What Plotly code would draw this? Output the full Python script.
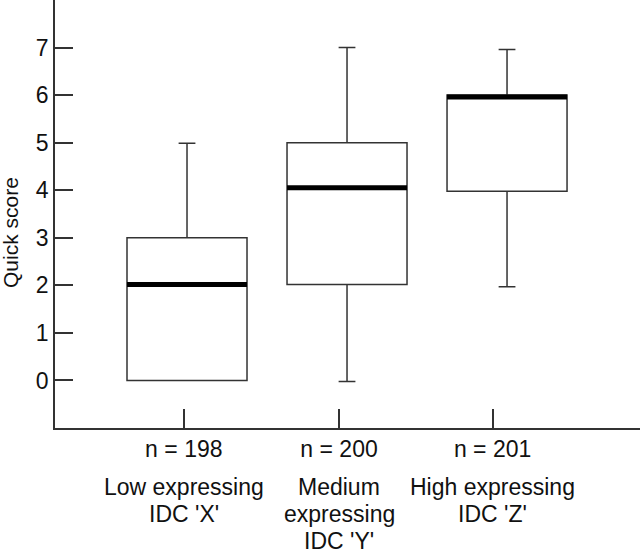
import plotly.graph_objects as go

groups = [["Low expressing", "IDC 'X'"],
          ["Medium", "expressing", "IDC 'Y'"],
          ["High expressing", "IDC 'Z'"]]
n_labels = ["n = 198", "n = 200", "n = 201"]
positions = [1, 2, 3]
tick_positions = [0.98, 1.95, 2.91]
lower = [0.0, -0.02, 1.97]
q1 = [0.0, 2.02, 3.98]
median = [2.02, 4.05, 5.96]
q3 = [3.0, 5.0, 6.0]
upper = [4.99, 7.0, 6.96]

BOX_W = 0.75
FONT = "Liberation Sans, Arial, Helvetica, sans-serif"
LINE = "#333333"
FS = 23
LINE_STEP = 27

fig = go.Figure()
fig.add_trace(go.Box(
    x=positions, q1=q1, median=median, q3=q3,
    lowerfence=lower, upperfence=upper,
    width=BOX_W, whiskerwidth=0.14,
    fillcolor="white", line=dict(color=LINE, width=1.5),
    boxpoints=False, showlegend=False, hoverinfo="skip",
))

mx, my = [], []
for p, m in zip(positions, median):
    mx += [p - BOX_W / 2, p + BOX_W / 2, None]
    my += [m, m, None]
fig.add_trace(go.Scatter(x=mx, y=my, mode="lines",
                         line=dict(color="black", width=5),
                         showlegend=False, hoverinfo="skip"))

for tp, lines in zip(tick_positions, groups):
    for k, txt in enumerate(lines):
        fig.add_annotation(x=tp, xref="x", y=0, yref="paper",
                           yanchor="middle", yshift=-59 - k * LINE_STEP,
                           text=txt, showarrow=False,
                           font=dict(family=FONT, size=FS, color="#111"),
                           borderpad=0)

fig.add_annotation(x=0, xref="paper", xanchor="center", xshift=-45,
                   y=0.5, yref="paper", yshift=-19,
                   text="Quick score", showarrow=False, textangle=-90,
                   font=dict(family=FONT, size=21, color="#111"))

fig.update_layout(
    width=640, height=552,
    margin=dict(l=55, r=0, t=0, b=124),
    plot_bgcolor="white", paper_bgcolor="white",
    font=dict(family=FONT, size=FS, color="#111"),
    xaxis=dict(range=[0.175, 3.831], showgrid=False, zeroline=False,
               automargin=False,
               showline=True, linecolor=LINE, linewidth=1.5,
               tickmode="array", tickvals=tick_positions, ticktext=n_labels,
               ticks="inside", ticklen=19, tickcolor=LINE, tickwidth=1.5,
               tickfont=dict(size=FS)),
    yaxis=dict(range=[-1.0, 8.0], showgrid=False, zeroline=False,
               automargin=False,
               showline=True, linecolor=LINE, linewidth=1.5,
               tickmode="array", tickvals=list(range(0, 9)),
               ticktext=[str(i) for i in range(0, 8)] + [""],
               ticks="inside", ticklen=18, tickcolor=LINE, tickwidth=1.5,
               tickfont=dict(size=FS)),
)

fig.write_html("out.html", config={"displayModeBar": False},
               post_script="document.body.style.margin='0';document.body.style.padding='0';")
